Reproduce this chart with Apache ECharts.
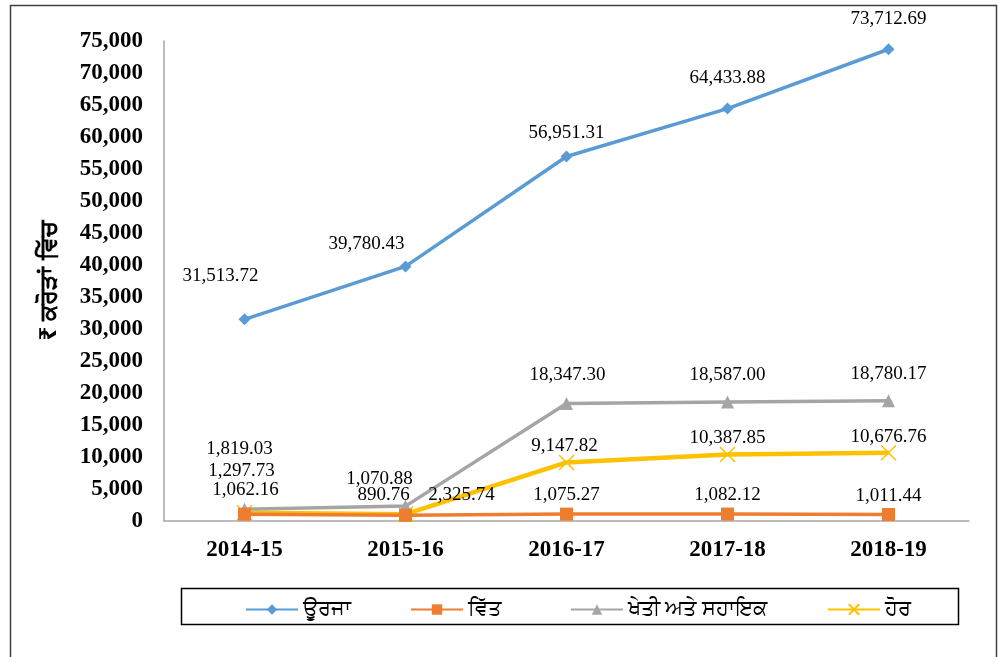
<!DOCTYPE html>
<html>
<head>
<meta charset="utf-8">
<script src="https://cdn.jsdelivr.net/npm/echarts@6/dist/echarts.min.js"></script>
<style>
html,body{margin:0;padding:0;background:#fff;}
#chart{width:1001px;height:657px;}
</style>
</head>
<body>
<div id="chart"></div>
<script>
const categories = ['2014-15', '2015-16', '2016-17', '2017-18', '2018-19'];
const seriesNames = ['ਊਰਜਾ', 'ਵਿੱਤ', 'ਖੇਤੀ ਅਤੇ ਸਹਾਇਕ', 'ਹੋਰ'];
const energy = [31513.72, 39780.43, 56951.31, 64433.88, 73712.69];
const finance = [1062.16, 890.76, 1075.27, 1082.12, 1011.44];
const agriculture = [1819.03, 2325.74, 18347.30, 18587.00, 18780.17];
const other = [1297.73, 1070.88, 9147.82, 10387.85, 10676.76];
const yAxisTitle = '₹ ਕਰੋੜਾਂ ਵਿੱਚ';

// label offsets (styling only), relative to each point
const labelOffsets = [
  [[-24, -43], [-39, -22], [0, -23], [0, -31], [0, -30]],
  [[1, -24], [-22, -20], [0, -19], [0, -19], [0, -19]],
  [[-5, -60], [56, -11], [1, -29], [0, -27], [0, -27]],
  [[-3, -42], [-26, -35], [-2, -16], [0, -17], [0, -16]]
];

const colors = ['#5B9BD5', '#ED7D31', '#A5A5A5', '#FFC000'];
const symbols = ['diamond', 'rect', 'triangle', 'path://M0,0L10,10M10,0L0,10'];
const symbolSizes = [12, 13, 13, 15];
const lineWidths = [3.5, 3.5, 3.5, 4.5];
const values = [energy, finance, agriculture, other];

const fmt = v => v.toLocaleString('en-US', {minimumFractionDigits: 2, maximumFractionDigits: 2});
const serif = '"Liberation Serif", "Times New Roman", serif';
const gurFont = '"Noto Sans", "DejaVu Sans", sans-serif';

const series = values.map((vals, i) => ({
  name: seriesNames[i],
  type: 'line',
  data: vals.map((v, j) => ({
    value: v,
    label: {offset: labelOffsets[i][j]}
  })),
  symbol: symbols[i],
  symbolSize: symbolSizes[i],
  lineStyle: {color: colors[i], width: lineWidths[i]},
  itemStyle: {color: colors[i], borderColor: colors[i], borderWidth: i === 3 ? 1.5 : 0},
  label: {
    show: true,
    position: 'inside',
    color: '#000',
    fontFamily: serif,
    fontSize: 19,
    formatter: p => fmt(p.value)
  },
  z: 10 - i,
  animation: false
}));

const legendLefts = [240, 405, 565, 822];
const legends = seriesNames.map((n, i) => ({
  data: [n],
  left: legendLefts[i],
  top: 594,
  itemWidth: 52,
  itemHeight: 13,
  itemGap: 4,
  textStyle: {fontFamily: gurFont, fontSize: 21, color: '#000'}
}));

const chart = echarts.init(document.getElementById('chart'));
chart.setOption({
  animation: false,
  backgroundColor: '#fff',
  grid: {left: 164, right: 32, top: 41, bottom: 136, containLabel: false},
  xAxis: {
    type: 'category',
    data: categories,
    boundaryGap: true,
    axisLine: {lineStyle: {color: '#A6A6A6', width: 1.5}},
    axisTick: {show: false},
    axisLabel: {fontFamily: serif, fontWeight: 'bold', fontSize: 23, color: '#000', margin: 18}
  },
  yAxis: {
    type: 'value',
    min: 0, max: 75000, interval: 5000,
    axisLine: {show: true, lineStyle: {color: '#A6A6A6', width: 1.5}},
    axisTick: {show: false},
    splitLine: {show: false},
    axisLabel: {
      fontFamily: serif, fontWeight: 'bold', fontSize: 23, color: '#000', margin: 21,
      formatter: v => v.toLocaleString('en-US')
    },
    name: yAxisTitle,
    nameLocation: 'middle',
    nameGap: 103,
    nameTextStyle: {fontFamily: gurFont, fontWeight: 'bold', fontSize: 24, color: '#000'}
  },
  legend: legends,
  graphic: [
    {type: 'rect', shape: {x: 10.5, y: 5.5, width: 986, height: 700}, style: {fill: 'none', stroke: '#404040', lineWidth: 1.5}, silent: true},
    {type: 'rect', shape: {x: 181.5, y: 588.5, width: 777, height: 36}, style: {fill: 'none', stroke: '#000', lineWidth: 1.5}, silent: true}
  ],
  series: series
});
</script>
</body>
</html>
